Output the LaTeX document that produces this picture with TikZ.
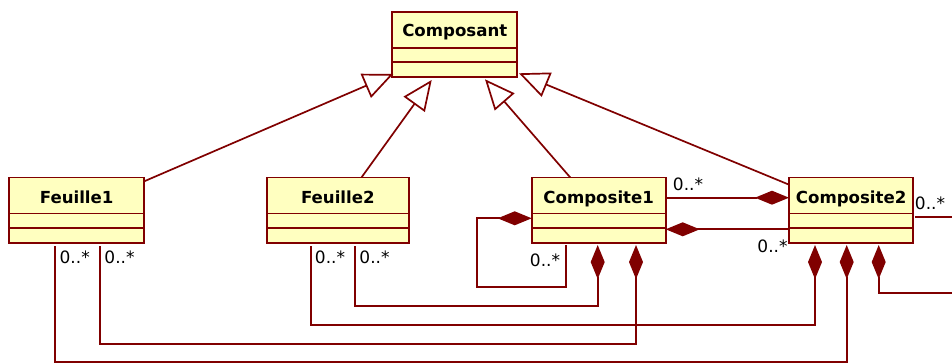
\documentclass[tikz,border=0pt]{standalone}
\usepackage{fontspec}
\setmainfont{DejaVu Sans}
\usetikzlibrary{arrows.meta}
\definecolor{umlred}{RGB}{128,0,0}
\definecolor{umlfill}{RGB}{255,255,192}
\newcommand\clsdiv[1]{%
  \draw[div] ([yshift=-36.3pt]#1.north west) -- ([yshift=-36.3pt]#1.north east);
  \draw[div] ([yshift=-50.5pt]#1.north west) -- ([yshift=-50.5pt]#1.north east);}
\begin{document}
\begin{tikzpicture}[x=1pt,y=-1pt,
  cls/.style={draw=umlred, fill=umlfill, line width=1.8pt, inner sep=0pt, outer sep=0pt, minimum height=65.6pt},
  clsname/.style={font=\fontsize{16.6}{19}\selectfont\bfseries, text=black, inner sep=0pt, anchor=base},
  div/.style={draw=umlred, line width=1.5pt},
  conn/.style={draw=umlred, line width=1.7pt},
  gen/.style={conn, -{Triangle[open, length=30pt, width=26pt, line width=1.7pt]}},
  compstart/.style={conn, {Diamond[length=34pt, width=14pt]}-},
  compend/.style={conn, -{Diamond[length=34pt, width=14pt]}},
  mult/.style={font=\fontsize{17}{20}\selectfont, text=black, inner sep=0pt}]
\clip (0,0) rectangle (952,363);
\fill[white] (0,0) rectangle (952,363);

% classes
\node[cls, minimum width=125pt] (composant) at (454.8,44.5) {};
\node[cls, minimum width=134.7pt] (feuille1) at (76.65,210.25) {};
\node[cls, minimum width=142.3pt] (feuille2) at (337.85,210.25) {};
\node[cls, minimum width=134pt] (composite1) at (598.7,210.25) {};
\node[cls, minimum width=124.3pt] (composite2) at (851.15,210.25) {};
\clsdiv{composant}
\clsdiv{feuille1}
\clsdiv{feuille2}
\clsdiv{composite1}
\clsdiv{composite2}
\node[clsname] (composantN) at ([yshift=-24.5pt]composant.north) {Composant};
\node[clsname] (feuille1N) at ([yshift=-26pt]feuille1.north) {Feuille1};
\node[clsname] (feuille2N) at ([yshift=-26pt]feuille2.north) {Feuille2};
\node[clsname] (composite1N) at ([yshift=-26pt]composite1.north) {Composite1};
\node[clsname] (composite2N) at ([yshift=-26pt]composite2.north) {Composite2};

% generalisation tips
\coordinate (t1) at (393.3,74);
\coordinate (t2) at (431.7,80);
\coordinate (t3) at (485,79.3);
\coordinate (t4) at (519,73.3);
\draw[gen] (feuille1) -- (t1);
\draw[gen] (feuille2) -- (t2);
\draw[gen] (composite1) -- (t3);
\draw[gen] (composite2) -- (t4);

% composite1 <-> composite2
\coordinate (ya) at (0,197.7);
\coordinate (yb) at (0,229.3);
\draw[compend] (composite1.east |- ya) -- (composite2.west |- ya);
\draw[compstart] (composite1.east |- yb) -- (composite2.west |- yb);

% self association
\coordinate (yself) at (0,218.3);
\coordinate (selfL) at (476.7,286.7);
\coordinate (selfR) at (566,286.7);
\draw[compstart, shorten >=2pt] (composite1.west |- yself) -- (selfL |- yself) -- (selfL) -- (selfR) -- (composite1.south -| selfR);

% bottom connectors
\coordinate (p1) at (597.7,306);
\coordinate (p2) at (636,344);
\coordinate (p3) at (815,325);
\coordinate (p4) at (846.7,362.3);
\coordinate (p5) at (878.7,292.7);
\coordinate (xa) at (355,0);
\coordinate (xb) at (100,0);
\coordinate (xc) at (310.7,0);
\coordinate (xd) at (55,0);
\draw[compstart, shorten <=2pt, shorten >=3pt] (composite1.south -| p1) -- (p1) -- (p1 -| xa) -- (feuille2.south -| xa);
\draw[compstart, shorten <=2pt, shorten >=3pt] (composite1.south -| p2) -- (p2) -- (p2 -| xb) -- (feuille1.south -| xb);
\draw[compstart, shorten <=2pt, shorten >=3pt] (composite2.south -| p3) -- (p3) -- (p3 -| xc) -- (feuille2.south -| xc);
\draw[compstart, shorten <=2pt, shorten >=3pt] (composite2.south -| p4) -- (p4) -- (p4 -| xd) -- (feuille1.south -| xd);
\coordinate (r2) at (962,292.7);
\draw[compstart, shorten <=2pt] (composite2.south -| p5) -- (p5) -- (r2);
\coordinate (r1) at (962,217);
\draw[conn, shorten <=2pt] (composite2.east |- r1) -- (r1);

% multiplicities
\node[mult] (m1) at (688,184.5) {0..*};
\node[mult] (m2) at (772.5,246.7) {0..*};
\node[mult] (m3) at (545,260) {0..*};
\node[mult] (m4) at (74.7,257.3) {0..*};
\node[mult] (m5) at (119.5,257.3) {0..*};
\node[mult] (m6) at (330,257.3) {0..*};
\node[mult] (m7) at (374.5,257.3) {0..*};
\node[mult] (m8) at (930,203.3) {0..*};
\end{tikzpicture}
\end{document}
